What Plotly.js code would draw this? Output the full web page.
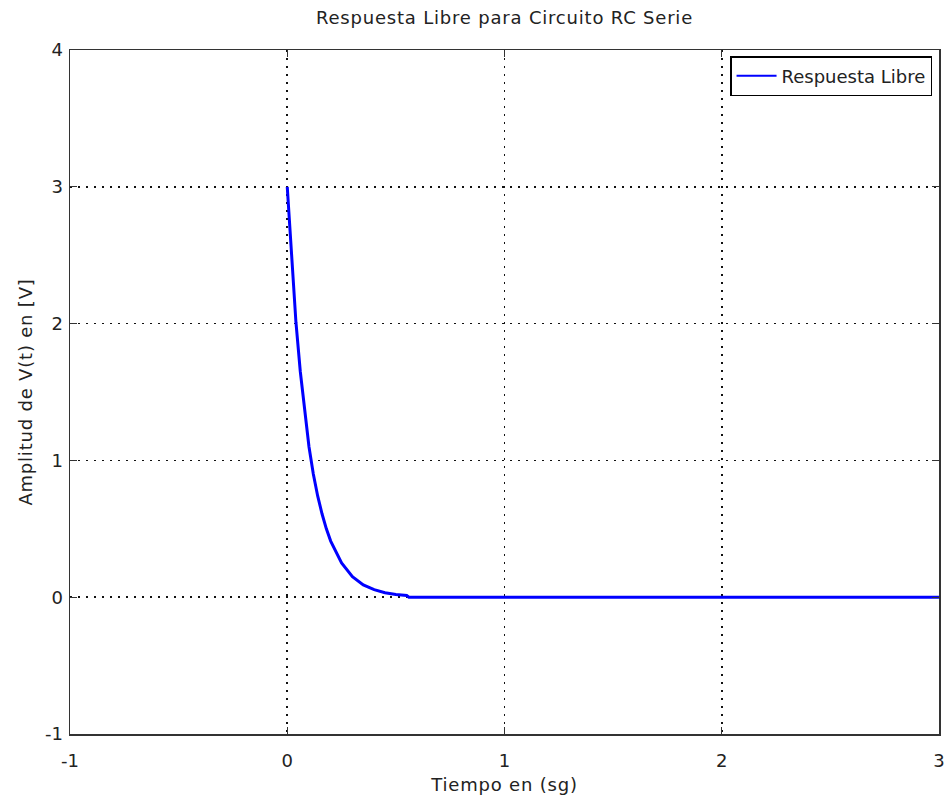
<!DOCTYPE html>
<html>
<head>
<meta charset="utf-8">
<script src="https://cdn.plot.ly/plotly-3.0.1.min.js"></script>
<style>
html,body{margin:0;padding:0;background:#fff;}
#chart{width:947px;height:799px;}
#chart .gtitle, #chart .xtitle, #chart .ytitle { letter-spacing: 0.8px; }
#chart .legend .legendlines path { stroke-width: 2px !important; }
</style>
</head>
<body>
<div id="chart"></div>
<script>
// Data
var tiempo = [0, 0.02, 0.04, 0.06, 0.08, 0.10, 0.12, 0.14, 0.16, 0.18, 0.20, 0.25, 0.30, 0.35, 0.40, 0.45, 0.50, 0.55, 0.56, 1.0, 2.0, 3.0];
var voltaje = [3.0, 2.46, 2.01, 1.65, 1.35, 1.10, 0.90, 0.74, 0.61, 0.50, 0.41, 0.25, 0.15, 0.09, 0.055, 0.033, 0.02, 0.012, 0, 0, 0, 0];
var xTicks = [-1, 0, 1, 2, 3];
var xTickText = ['-1', '0', '1', '2', '3'];
var yTicks = [-1, 0, 1, 2, 3, 4];
var yTickText = ['-1', '0', '1', '2', '3', '4'];
var seriesName = 'Respuesta Libre';
var chartTitle = 'Respuesta Libre para Circuito RC Serie';
var xTitle = 'Tiempo en (sg)';
var yTitle = 'Amplitud de V(t) en [V]';

var trace = {
  x: tiempo,
  y: voltaje,
  type: 'scatter',
  mode: 'lines',
  name: seriesName,
  showlegend: true,
  line: {color: '#0000ff', width: 3}
};

var axisCommon = {
  ticks: 'inside',
  ticklen: 7,
  tickwidth: 1.2,
  tickcolor: '#333',
  showline: true,
  linecolor: '#333',
  linewidth: 1.5,
  mirror: 'ticks',
  showgrid: true,
  gridcolor: '#111',
  gridwidth: 1.6,
  griddash: '1.6px,6.4px',
  zeroline: false,
  tickfont: {family: 'DejaVu Sans', size: 18, color: '#222'}
};

var layout = {
  width: 947,
  height: 799,
  margin: {l: 70, r: 8, t: 50, b: 65},
  paper_bgcolor: '#fff',
  plot_bgcolor: '#fff',
  font: {family: 'DejaVu Sans', size: 18, color: '#222'},
  title: {
    text: chartTitle,
    font: {family: 'DejaVu Sans', size: 18, color: '#222'},
    xref: 'paper', x: 0.5, xanchor: 'center',
    yref: 'container', y: 1 - 18 / 799, yanchor: 'middle'
  },
  xaxis: Object.assign({}, axisCommon, {
    range: [-1, 3],
    tickmode: 'array',
    tickvals: xTicks,
    ticktext: xTickText,
    ticklabelstandoff: 10,
    title: {text: xTitle, standoff: 8, font: {family: 'DejaVu Sans', size: 18, color: '#222'}}
  }),
  yaxis: Object.assign({}, axisCommon, {
    range: [-1, 4],
    tickmode: 'array',
    tickvals: yTicks,
    ticktext: yTickText,
    ticklabelstandoff: 2,
    title: {text: yTitle, standoff: 7, font: {family: 'DejaVu Sans', size: 18, color: '#222'}}
  }),
  legend: {
    x: 0.992, xanchor: 'right',
    y: 0.991, yanchor: 'top',
    bgcolor: '#fff',
    bordercolor: '#000',
    borderwidth: 1.5,
    itemwidth: 40,
    font: {family: 'DejaVu Sans', size: 18, color: '#222'}
  }
};

Plotly.newPlot('chart', [trace], layout, {displayModeBar: false, staticPlot: true});
</script>
</body>
</html>
